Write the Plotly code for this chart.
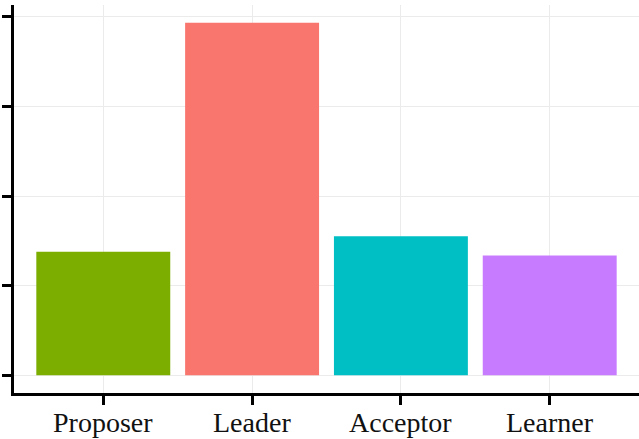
import plotly.graph_objects as go

categories = ["Proposer", "Leader", "Acceptor", "Learner"]
values = [1.377, 3.933, 1.551, 1.336]
colors = ["#7CAE00", "#F8766D", "#00BFC4", "#C77CFF"]
y_ticks = [0, 1, 2, 3, 4]

fig = go.Figure(
    go.Bar(
        x=categories,
        y=values,
        marker=dict(color=colors, line=dict(width=0)),
        width=0.9,
        showlegend=False,
    )
)

ymax = max(values)
pad = 0.05 * ymax

fig.update_layout(
    width=639,
    height=439,
    margin=dict(l=14, r=0, t=5, b=46),
    paper_bgcolor="white",
    plot_bgcolor="white",
    font=dict(family="Liberation Serif, Times New Roman, serif", size=28, color="#111111"),
    bargap=0.1,
)

for cat in categories:
    fig.add_annotation(
        x=cat, y=0, xref="x", yref="paper",
        text=cat, showarrow=False,
        xanchor="center", yanchor="top", yshift=-12,
        font=dict(size=28, color="#111111",
                  family="Liberation Serif, Times New Roman, serif"),
    )

fig.update_xaxes(
    range=[-0.6, 3.6],
    automargin=False,
    showticklabels=False,
    showline=True,
    linecolor="black",
    linewidth=2.5,
    ticks="outside",
    ticklen=9,
    tickwidth=2.5,
    tickcolor="black",
    showgrid=True,
    gridcolor="#EBEBEB",
    gridwidth=1.2,
)

fig.update_yaxes(
    range=[-pad, ymax + pad],
    automargin=False,
    tickvals=y_ticks,
    showticklabels=False,
    showline=True,
    linecolor="black",
    linewidth=2.5,
    ticks="outside",
    ticklen=9,
    tickwidth=2.5,
    tickcolor="black",
    showgrid=True,
    gridcolor="#EBEBEB",
    gridwidth=1.2,
    zeroline=False,
)

fig.write_html("out.html")
